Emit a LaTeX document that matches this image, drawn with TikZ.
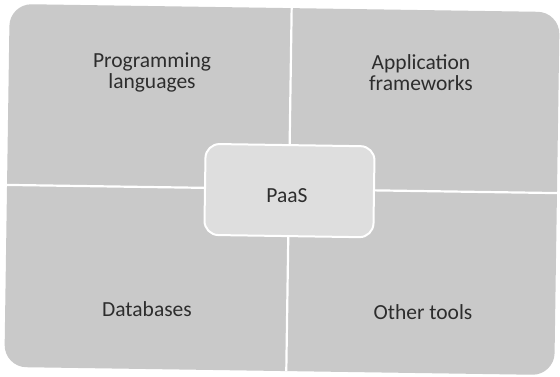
\documentclass[tikz,border=0pt]{standalone}
\usepackage{fontspec}
\setmainfont{Carlito}
\definecolor{quad}{RGB}{201,201,201}
\definecolor{centerfill}{RGB}{222,222,222}
\definecolor{txt}{RGB}{45,45,45}
\begin{document}
\begin{tikzpicture}[x=1pt,y=-1pt,
  quadtext/.style={font=\fontsize{21.5}{20.5}\selectfont, text=txt, align=center, inner sep=0pt, anchor=base},
  divider/.style={draw=white, line width=2.2pt},
  centerbox/.style={draw=white, line width=2pt, fill=centerfill, rounded corners=14pt}]
\useasboundingbox (0,0) rectangle (560,376);
\fill[white] (0,0) rectangle (560,376);
\begin{scope}[rotate around={-0.85:(282,189)}]
% quadrants
\fill[quad, rounded corners=22pt] (7,8) rectangle (557,371);
\coordinate (vt) at (289,8);
\coordinate (vb) at (289,371);
\coordinate (hl) at (7,189);
\coordinate (hr) at (557,189);
\draw[divider] (vt) -- (vb);
\draw[divider] (hl) -- (hr);
% center
\path[centerbox] (205,145) rectangle (374,236);
\end{scope}
\node[quadtext] (paas) at (287,202) {PaaS};
\node[quadtext] (prog) at (152,88) {Programming\\languages};
\node[quadtext] (app) at (421,90) {Application\\frameworks};
\node[quadtext] (db) at (147,316) {Databases};
\node[quadtext] (other) at (423,319) {Other tools};
\end{tikzpicture}
\end{document}
